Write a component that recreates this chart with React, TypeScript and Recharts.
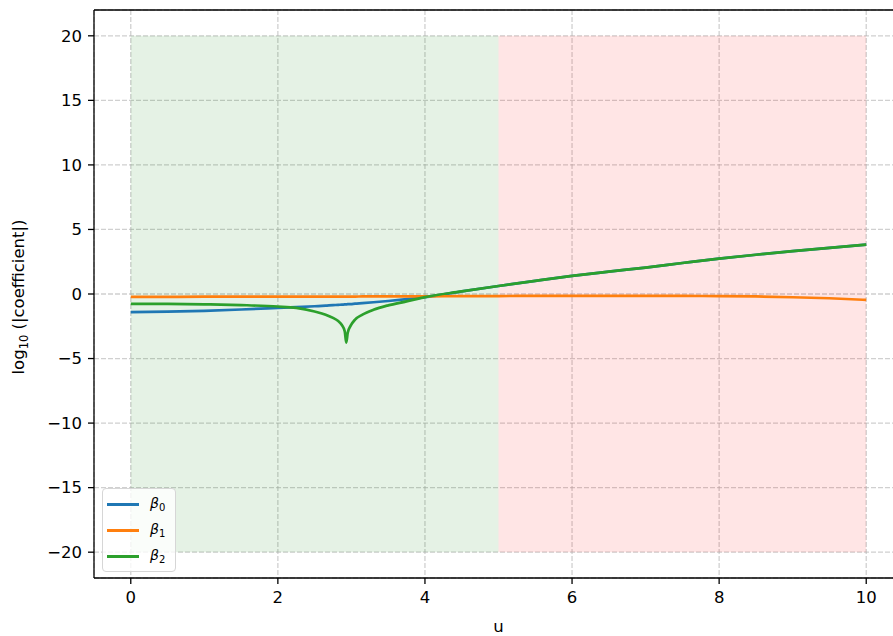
import React from "react";
import {
  LineChart,
  Line,
  XAxis,
  YAxis,
  CartesianGrid,
  ReferenceArea,
  ReferenceLine,
  Legend,
} from "recharts";

// u grid (denser around the beta_2 dip)
const U = [
  0, 0.5, 1, 1.5, 2, 2.25, 2.5, 2.65, 2.75, 2.82, 2.87, 2.91, 2.93, 2.95, 2.99,
  3.05, 3.15, 3.3, 3.5, 3.75, 4, 4.5, 5, 5.5, 6, 6.5, 7, 7.5, 8, 8.5, 9, 9.5, 10,
];

// log10(|coefficient|)
const BETA0 = [
  -1.4, -1.37, -1.3, -1.2, -1.08, -1.02, -0.95, -0.9, -0.86, -0.84, -0.82, -0.81,
  -0.8, -0.79, -0.78, -0.75, -0.71, -0.64, -0.54, -0.4, -0.24, 0.2, 0.62, 1.02,
  1.4, 1.73, 2.05, 2.4, 2.74, 3.04, 3.32, 3.58, 3.82,
];
const BETA1 = [
  -0.22, -0.22, -0.21, -0.21, -0.2, -0.2, -0.2, -0.2, -0.2, -0.2, -0.2, -0.2,
  -0.2, -0.2, -0.2, -0.2, -0.19, -0.19, -0.19, -0.18, -0.18, -0.17, -0.16,
  -0.15, -0.15, -0.14, -0.14, -0.15, -0.16, -0.19, -0.25, -0.33, -0.46,
];
const BETA2 = [
  -0.76, -0.77, -0.8, -0.86, -0.97, -1.08, -1.36, -1.6, -1.85, -2.1, -2.4, -2.9,
  -3.77, -3.0, -2.45, -1.98, -1.6, -1.22, -0.88, -0.57, -0.24, 0.2, 0.62, 1.02,
  1.4, 1.73, 2.05, 2.4, 2.74, 3.04, 3.32, 3.58, 3.82,
];

const X_TICKS = [0, 2, 4, 6, 8, 10];
const Y_TICKS = [-20, -15, -10, -5, 0, 5, 10, 15, 20];

// shaded regions
const STABLE_U = [0, 5];
const UNSTABLE_U = [5, 10];
const BAND_Y = [-20, 20];

const SERIES = [
  { key: "b0", sub: "0", color: "#1f77b4" },
  { key: "b1", sub: "1", color: "#ff7f0e" },
  { key: "b2", sub: "2", color: "#2ca02c" },
];

const data = U.map((u, i) => ({ u, b0: BETA0[i], b1: BETA1[i], b2: BETA2[i] }));

const FONT = "DejaVu Sans";
const fmt = (v: number) => String(v).replace("-", "\u2212");

function YTitle() {
  return (
    <text
      x={24}
      y={297}
      transform="rotate(-90 24 297)"
      textAnchor="middle"
      fontFamily={FONT}
      fontSize={16.5}
      fill="#000"
    >
      log
      <tspan fontSize={11.5} dy={4}>
        10
      </tspan>
      <tspan dy={-4}> (|coefficient|)</tspan>
    </text>
  );
}

function LegendBox() {
  return (
    <div
      style={{
        boxSizing: "border-box",
        width: 74,
        height: 84,
        paddingTop: 2,
        border: "1px solid #d6d6d6",
        borderRadius: 4,
        background: "rgba(255,255,255,0.8)",
        fontFamily: FONT,
        fontSize: 14,
        color: "#000",
      }}
    >
      {SERIES.map((s) => (
        <div key={s.key} style={{ display: "flex", alignItems: "center", height: 26 }}>
          <div style={{ marginLeft: 4, width: 32, height: 3, background: s.color }} />
          <span style={{ marginLeft: 11, fontStyle: "italic", lineHeight: 1 }}>
            β
            <sub style={{ fontStyle: "normal", fontSize: 10, verticalAlign: -3 }}>{s.sub}</sub>
          </span>
        </div>
      ))}
    </div>
  );
}

export default function App() {
  const axisLine = { stroke: "#000", strokeWidth: 1.3 };
  const tick = { fill: "#000", fontSize: 16.5, fontFamily: FONT };
  return (
    <div
      style={{
        position: "absolute",
        left: 0,
        top: 0,
        width: 893,
        height: 636,
        overflow: "hidden",
        background: "#fff",
      }}
    >
      <LineChart
        width={903}
        height={636}
        data={data}
        margin={{ top: 10, right: 0, bottom: 0, left: 0 }}
      >
        <ReferenceArea
          x1={STABLE_U[0]}
          x2={STABLE_U[1]}
          y1={BAND_Y[0]}
          y2={BAND_Y[1]}
          fill="#008000"
          fillOpacity={0.1}
          stroke="none"
        />
        <ReferenceArea
          x1={UNSTABLE_U[0]}
          x2={UNSTABLE_U[1]}
          y1={BAND_Y[0]}
          y2={BAND_Y[1]}
          fill="#ff0000"
          fillOpacity={0.1}
          stroke="none"
        />
        <CartesianGrid
          stroke="#b0b0b0"
          strokeOpacity={0.6}
          strokeWidth={1.3}
          strokeDasharray="5 2"
        />
        <XAxis
          dataKey="u"
          type="number"
          domain={[-0.5, 10.5]}
          ticks={X_TICKS}
          tickFormatter={fmt}
          tickSize={6}
          tickMargin={7}
          axisLine={axisLine}
          tickLine={axisLine}
          tick={tick}
          height={58}
          label={{
            value: "u",
            position: "insideBottom",
            offset: 4,
            fill: "#000",
            fontSize: 16.5,
            fontFamily: FONT,
          }}
        />
        <YAxis
          type="number"
          domain={[-22, 22]}
          ticks={Y_TICKS}
          tickFormatter={fmt}
          tickSize={6}
          tickMargin={6}
          axisLine={axisLine}
          tickLine={axisLine}
          tick={tick}
          width={94}
          label={<YTitle />}
        />
        <ReferenceLine y={22} stroke="#000" strokeWidth={1.3} />
        {SERIES.map((s) => (
          <Line
            key={s.key}
            dataKey={s.key}
            type="monotone"
            stroke={s.color}
            strokeWidth={2.7}
            dot={false}
            activeDot={false}
            isAnimationActive={false}
          />
        ))}
        <Legend
          layout="vertical"
          align="center"
          verticalAlign="middle"
          content={<LegendBox />}
          wrapperStyle={{ left: 102, top: 488, width: 74, height: 84 }}
        />
      </LineChart>
    </div>
  );
}
